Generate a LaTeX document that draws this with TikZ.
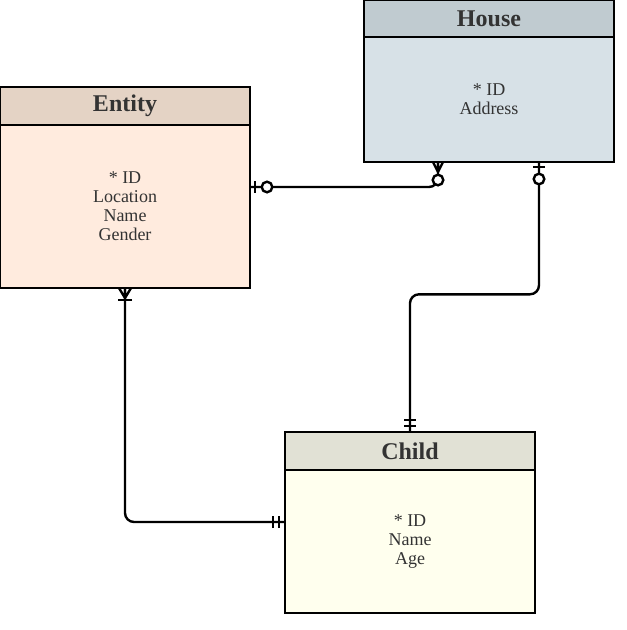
\documentclass[tikz,border=0pt]{standalone}
\usepackage{fontspec}
\setmainfont{Liberation Serif}
\usetikzlibrary{positioning,calc}

\definecolor{txtgray}{HTML}{333333}
\definecolor{entityhdfill}{HTML}{E4D3C5}
\definecolor{entityfill}{HTML}{FFEBDE}
\definecolor{househdfill}{HTML}{C0CBD0}
\definecolor{housefill}{HTML}{D7E1E7}
\definecolor{childhdfill}{HTML}{E1E1D5}
\definecolor{childfill}{HTML}{FFFFEE}
\tikzset{
  hdr/.style={draw, line width=2.4, minimum width=250, minimum height=38, inner sep=0, outer sep=0,
    anchor=north west, text=txtgray, font=\fontsize{24}{26}\selectfont\bfseries},
  attrs/.style={draw, line width=2.4, minimum width=250, inner sep=0, outer sep=0, align=center,
    text=txtgray, font=\fontsize{18}{19}\selectfont},
  conn/.style={line width=2.4, rounded corners=9},
  ermark/.style={line width=2.4},
  zeroone/.pic={\draw [ermark] (5,-6) -- (5,6);
    \draw [ermark, fill=white] (17,0) circle (5.3);},
  zeromany/.pic={\draw [ermark] (0,-5) -- (10,0) -- (0,5) (0,0) -- (10,0);
    \draw [ermark, fill=white] (18,0) circle (5.3);},
  onemany/.pic={\draw [ermark] (0,-6) -- (10,0) -- (0,6) (0,0) -- (10,0);
    \draw [ermark] (12,-7) -- (12,7);},
  oneone/.pic={\draw [ermark] (6,-6) -- (6,6) (12,-6) -- (12,6);}
}

\begin{document}
\begin{tikzpicture}[x=1pt, y=-1pt]
  \useasboundingbox (0,0) rectangle (627,630);
  % entities
  \node [hdr, fill=entityhdfill] (entityhd) at (0,87) {Entity};
  \node [attrs, fill=entityfill, minimum height=163, below=0pt of entityhd] (entity)
    {* ID\\Location\\Name\\Gender};
  \node [hdr, fill=househdfill, minimum height=37] (househd) at (364,0) {House};
  \node [attrs, fill=housefill, minimum height=125, below=0pt of househd] (house)
    {* ID\\Address};
  \node [hdr, fill=childhdfill] (childhd) at (285,432) {Child};
  \node [attrs, fill=childfill, minimum height=143, below=0pt of childhd] (child)
    {* ID\\Name\\Age};
  % connector ends
  \coordinate (eR) at ([shift={(0,100)}]entityhd.north east);
  \coordinate (eB) at (entity.south);
  \coordinate (hL) at ([shift={(74,0)}]house.south west);
  \coordinate (hR) at ([shift={(175,0)}]house.south west);
  \coordinate (cT) at ([shift={(125,0)}]childhd.north west);
  \coordinate (cL) at ([shift={(0,90)}]childhd.north west);
  \coordinate (mid) at ($(hR)!0.49!(cT)$);
  % relations
  \draw [conn] (eR) -- (hL |- eR) -- (hL);
  \draw [conn] (hR) -- (hR |- mid) -- (cT |- mid) -- (cT);
  \draw [conn] (eB) -- (eB |- cL) -- (cL);
  \pic at (eR) {zeroone};
  \pic [rotate=-90] at (hL) {zeromany};
  \pic [rotate=-90] at (hR) {zeroone};
  \pic [rotate=90] at (cT) {oneone};
  \pic [rotate=-90] at (eB) {onemany};
  \pic [rotate=180] at (cL) {oneone};
\end{tikzpicture}
\end{document}
